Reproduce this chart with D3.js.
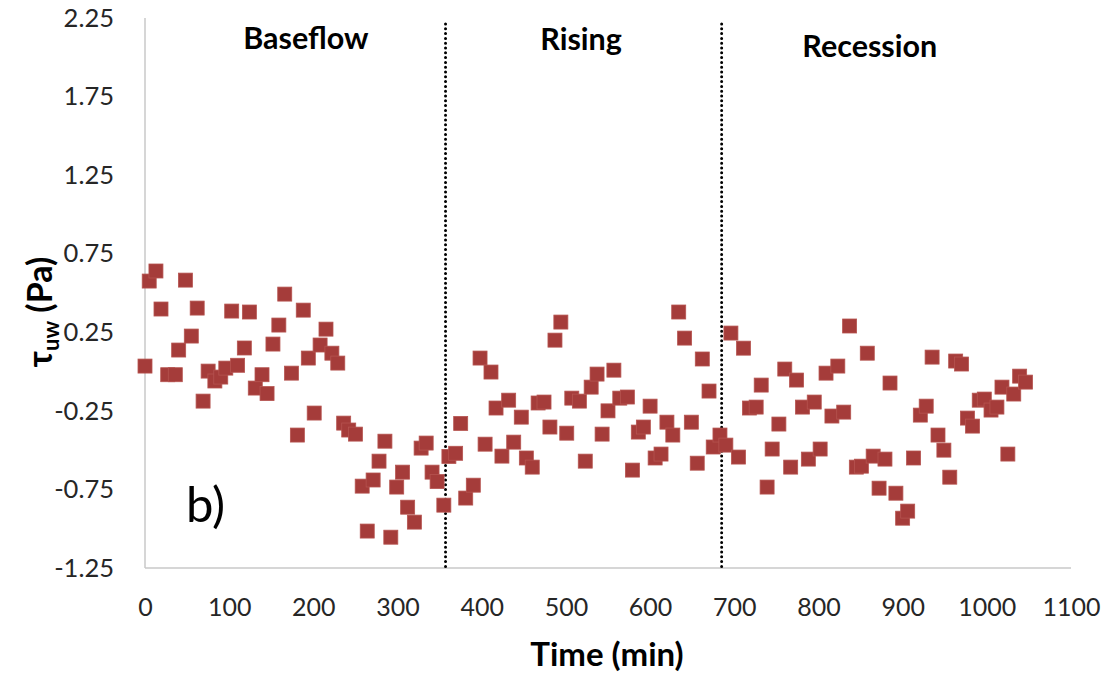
<!DOCTYPE html>
<html>
<head>
<meta charset="utf-8">
<script src="https://cdn.jsdelivr.net/npm/d3@7"></script>
<style>
html,body{margin:0;padding:0;background:#fff;}
svg{display:block;}
</style>
</head>
<body>
<svg id="chart" width="1106" height="674"></svg>
<script>
const timeMin = [0,5,13,19,27,36,40,48,55,62,69,75,83,90,96,103,110,118,124,131,139,145,152,159,166,174,181,188,194,201,208,215,222,229,236,242,250,258,264,271,278,285,292,299,306,312,320,328,334,341,347,355,361,369,375,381,390,398,404,411,417,424,432,438,447,453,460,467,474,481,487,494,501,507,516,523,530,537,543,550,557,564,573,579,586,592,600,606,613,620,627,634,641,649,656,662,670,675,683,690,696,705,711,718,726,732,739,745,753,760,767,774,781,788,795,802,809,816,823,830,837,845,851,858,865,872,879,885,892,900,906,913,921,928,935,942,949,956,963,970,977,983,991,997,1005,1012,1018,1025,1032,1039,1046];
const tauUw = [0.035,0.576,0.64,0.398,-0.02,-0.02,0.137,0.582,0.226,0.404,-0.188,0.003,-0.06,-0.035,0.022,0.385,0.04,0.15,0.379,-0.105,-0.02,-0.14,0.175,0.296,0.493,-0.01,-0.404,0.391,0.086,-0.264,0.169,0.27,0.117,0.054,-0.328,-0.372,-0.398,-0.729,-1.015,-0.69,-0.57,-0.443,-1.054,-0.735,-0.64,-0.863,-0.958,-0.487,-0.455,-0.64,-0.70,-0.85,-0.54,-0.52,-0.33,-0.805,-0.723,0.086,-0.462,-0.003,-0.232,-0.538,-0.182,-0.449,-0.29,-0.55,-0.608,-0.20,-0.194,-0.353,0.20,0.315,-0.392,-0.169,-0.188,-0.57,-0.099,-0.016,-0.398,-0.25,0.009,-0.169,-0.162,-0.627,-0.385,-0.353,-0.22,-0.55,-0.525,-0.322,-0.404,0.379,0.213,-0.322,-0.583,0.08,-0.124,-0.48,-0.404,-0.468,0.245,-0.544,0.149,-0.232,-0.226,-0.086,-0.735,-0.493,-0.334,0.016,-0.608,-0.054,-0.226,-0.557,-0.194,-0.493,-0.01,-0.283,0.035,-0.258,0.29,-0.608,-0.602,0.117,-0.538,-0.742,-0.557,-0.073,-0.774,-0.933,-0.888,-0.55,-0.277,-0.22,0.092,-0.404,-0.5,-0.672,0.067,0.048,-0.296,-0.347,-0.182,-0.175,-0.245,-0.226,-0.099,-0.525,-0.143,-0.029,-0.067];
const xTicks = [0,100,200,300,400,500,600,700,800,900,1000,1100];
const yTicks = [-1.25,-0.75,-0.25,0.25,0.75,1.25,1.75,2.25];
const phaseBounds = [357,685];
const phaseNames = ["Baseflow","Rising","Recession"];
const phaseCenters = [191,518,861];

const svg = d3.select("#chart");
const x = d3.scaleLinear().domain([0,1100]).range([145,1071]);
const y = d3.scaleLinear().domain([-1.25,2.25]).range([568,18]);
const font = "Lato, 'Open Sans', sans-serif";

// axes lines
svg.append("line").attr("x1",x(0)).attr("x2",x(0)).attr("y1",y(2.25)).attr("y2",y(-1.25))
  .attr("stroke","#c8c8c8").attr("stroke-width",1.5);
svg.append("line").attr("x1",x(0)).attr("x2",x(1100)).attr("y1",y(-1.25)).attr("y2",y(-1.25))
  .attr("stroke","#c8c8c8").attr("stroke-width",1.5);

// y tick labels (hyphen minus like the original)
const yAxis = d3.axisLeft(y).tickValues(yTicks).tickSize(0).tickPadding(31)
  .tickFormat(d => d.toFixed(2));
const gy = svg.append("g").attr("transform",`translate(${x(0)},0)`).call(yAxis);
gy.select(".domain").remove();
gy.selectAll("text").attr("font-family",font).attr("font-size",25.5).attr("fill","#262626");

// x tick labels
const xAxis = d3.axisBottom(x).tickValues(xTicks).tickSize(0).tickPadding(30)
  .tickFormat(d => String(d));
const gx = svg.append("g").attr("transform",`translate(0,${y(-1.25)})`).call(xAxis);
gx.select(".domain").remove();
gx.selectAll("text").attr("font-family",font).attr("font-size",25).attr("fill","#262626");

// phase divider lines
svg.selectAll("line.phase").data(phaseBounds).enter().append("line")
  .attr("class","phase")
  .attr("x1",d=>x(d)).attr("x2",d=>x(d))
  .attr("y1",24).attr("y2",y(-1.25))
  .attr("stroke","#000").attr("stroke-width",3)
  .attr("stroke-linecap","round").attr("stroke-dasharray","0,4.8");

// phase labels
const phaseBase = [49,50,57];
svg.selectAll("text.phase").data(phaseNames).enter().append("text")
  .attr("class","phase")
  .attr("x",(d,i)=>x(phaseCenters[i])).attr("y",(d,i)=>phaseBase[i])
  .attr("text-anchor","middle").attr("font-family",font).attr("font-weight","bold")
  .attr("font-size",30.5).attr("fill","#000").text(d=>d);

// points
const pts = timeMin.map((t,i)=>({t:t,v:tauUw[i]}));
const s = 14;
svg.append("g").selectAll("rect").data(pts).enter().append("rect")
  .attr("x",d=>x(d.t)-s/2).attr("y",d=>y(d.v)-s/2)
  .attr("width",s).attr("height",s)
  .attr("fill","#a53c3a").attr("stroke","#b65450").attr("stroke-width",0.8);

// b) label
svg.append("text").attr("x",186).attr("y",522).attr("font-family",font)
  .attr("font-size",49).attr("fill","#000").text("b)");

// axis titles
svg.append("text").attr("x",607).attr("y",666).attr("text-anchor","middle")
  .attr("font-family",font).attr("font-weight","bold").attr("font-size",33).attr("fill","#000")
  .text("Time (min)");

const yt = svg.append("text").attr("transform","translate(52,312) rotate(-90)")
  .attr("text-anchor","middle").attr("font-family",font).attr("font-weight","bold")
  .attr("font-size",34).attr("fill","#000");
yt.append("tspan").text("τ");
yt.append("tspan").attr("font-size",22).attr("dy",7).text("uw");
yt.append("tspan").attr("dy",-7).text(" (Pa)");
</script>
</body>
</html>
